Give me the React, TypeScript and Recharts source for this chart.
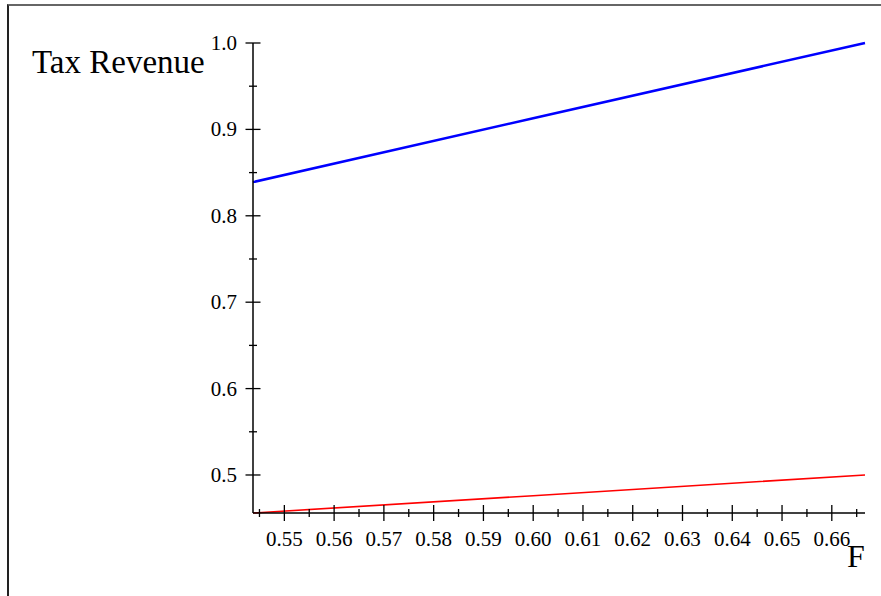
import { LineChart, Line, XAxis, YAxis, Label } from "recharts";

// F values (x) and the two tax revenue curves
const F_VALUES = [0.5437, 0.6, 0.66667];
const BLUE_REVENUE = [0.839, 0.913, 1.0];
const RED_REVENUE = [0.456, 0.476, 0.5];

const X_TICKS = [
  0.545, 0.55, 0.555, 0.56, 0.565, 0.57, 0.575, 0.58, 0.585, 0.59, 0.595, 0.6, 0.605, 0.61, 0.615,
  0.62, 0.625, 0.63, 0.635, 0.64, 0.645, 0.65, 0.655, 0.66, 0.665,
];
const Y_TICKS = [0.5, 0.55, 0.6, 0.65, 0.7, 0.75, 0.8, 0.85, 0.9, 0.95, 1.0];

const FONT = "'Liberation Serif', 'Times New Roman', serif";

const data = F_VALUES.map((f, i) => ({ f, blue: BLUE_REVENUE[i], red: RED_REVENUE[i] }));

const isMajor = (v: number, step: number) => Math.abs(v / step - Math.round(v / step)) < 1e-6;

function XTick(props: any) {
  const { x, y, payload } = props;
  const major = isMajor(payload.value, 0.01);
  const len = major ? 8 : 4;
  return (
    <g>
      <line x1={x} x2={x} y1={y - len} y2={y + len} stroke="#000" strokeWidth={1.3} />
      {major && (
        <text x={x} y={y + 33} textAnchor="middle" fontFamily={FONT} fontSize={21} fill="#000">
          {payload.value.toFixed(2)}
        </text>
      )}
    </g>
  );
}

function YTick(props: any) {
  const { x, y, payload } = props;
  const major = isMajor(payload.value, 0.1);
  const len = major ? 7.5 : 4;
  return (
    <g>
      <line x1={x - len} x2={x + len} y1={y} y2={y} stroke="#000" strokeWidth={1.3} />
      {major && (
        <text x={x - 16} y={y + 7} textAnchor="end" fontFamily={FONT} fontSize={21} fill="#000">
          {payload.value.toFixed(1)}
        </text>
      )}
    </g>
  );
}

export default function App() {
  return (
    <div style={{ position: "absolute", left: 0, top: 0, width: 881, height: 596, background: "#fff" }}>
      <div
        style={{
          position: "absolute",
          left: 7,
          top: 4,
          right: 0,
          bottom: 0,
          borderTop: "2px solid #666",
          borderLeft: "2px solid #222",
        }}
      />
      <LineChart
        width={881}
        height={596}
        data={data}
        margin={{ top: 43, right: 16, left: 0, bottom: 0 }}
        style={{ position: "absolute", left: 0, top: 0 }}
      >
        <XAxis
          dataKey="f"
          type="number"
          domain={[0.5437, 0.66667]}
          ticks={X_TICKS}
          interval={0}
          height={83}
          tickSize={0}
          tickMargin={0}
          tickLine={false}
          axisLine={{ stroke: "#000", strokeWidth: 1.5 }}
          tick={<XTick />}
        >
          <Label
            content={(p: any) => (
              <text
                x={p.viewBox.x + p.viewBox.width - 18}
                y={p.viewBox.y + 54}
                fontFamily={FONT}
                fontSize={32}
                fill="#000"
              >
                F
              </text>
            )}
          />
        </XAxis>
        <YAxis
          type="number"
          domain={[0.456, 1.0]}
          ticks={Y_TICKS}
          interval={0}
          width={253}
          tickSize={0}
          tickMargin={0}
          tickLine={false}
          axisLine={{ stroke: "#000", strokeWidth: 1.5 }}
          tick={<YTick />}
        >
          <Label
            content={(p: any) => (
              <text x={p.viewBox.x + 32} y={p.viewBox.y + 30} fontFamily={FONT} fontSize={33} fill="#000">
                Tax Revenue
              </text>
            )}
          />
        </YAxis>
        <Line
          type="linear"
          dataKey="blue"
          stroke="#0000ff"
          strokeWidth={2.5}
          dot={false}
          isAnimationActive={false}
        />
        <Line
          type="linear"
          dataKey="red"
          stroke="#ff0000"
          strokeWidth={1.6}
          dot={false}
          isAnimationActive={false}
        />
      </LineChart>
    </div>
  );
}
